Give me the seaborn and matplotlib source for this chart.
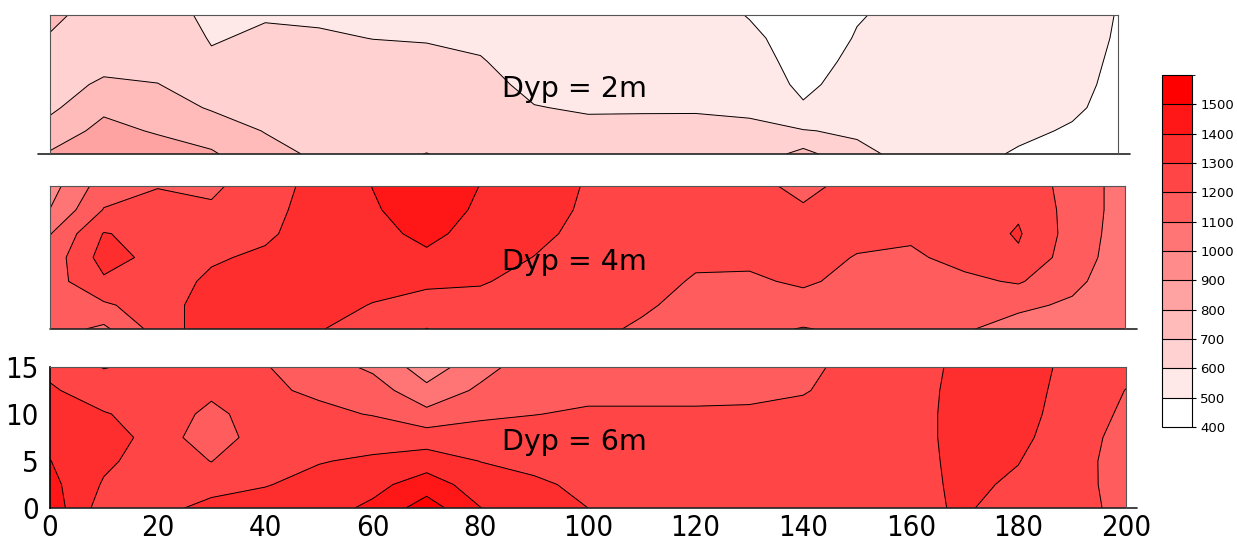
import numpy as np
import seaborn as sns
import matplotlib
matplotlib.use("Agg")
import matplotlib.pyplot as plt
from matplotlib.colors import ListedColormap, BoundaryNorm
from matplotlib.cm import ScalarMappable

# grid: x along the line, y = depth axis of each panel
x_pos = [0, 10, 20, 30, 40, 50, 60, 70, 80, 90, 100, 110, 120, 130, 140, 150, 160, 170, 180, 190, 200]
y_pos = [0, 2.5, 5, 7.5, 10, 12.5, 15]

# Dyp = 2m, one row per y value
dyp2 = [
    [810, 880, 850, 810, 740, 680, 670, 702, 665, 650, 640, 640, 640, 635, 730, 625, 570, 530, 490, 475, 440],
    [740, 830, 790, 760, 695, 665, 660, 660, 655, 635, 620, 620, 618, 612, 605, 585, 570, 540, 520, 490, 450],
    [680, 780, 750, 690, 670, 655, 650, 650, 640, 603, 592, 593, 594, 590, 510, 560, 555, 545, 535, 515, 460],
    [660, 715, 702, 660, 650, 640, 640, 635, 625, 580, 575, 570, 568, 560, 480, 540, 545, 545, 540, 525, 470],
    [650, 670, 670, 610, 630, 625, 620, 615, 605, 565, 562, 560, 558, 540, 465, 520, 535, 540, 540, 530, 478],
    [690, 640, 650, 595, 610, 608, 599, 596, 585, 560, 555, 555, 552, 520, 455, 505, 525, 535, 540, 535, 485],
    [730, 640, 630, 585, 595, 590, 580, 575, 570, 555, 550, 550, 545, 495, 450, 495, 520, 530, 540, 535, 490],
]

# Dyp = 4m
dyp4 = [
    [1140, 1080, 1240, 1360, 1370, 1305, 1260, 1198, 1240, 1230, 1235, 1180, 1130, 1125, 1095, 1120, 1115, 1110, 1060, 1040, 1010],
    [1150, 1185, 1250, 1350, 1360, 1340, 1295, 1260, 1268, 1250, 1230, 1220, 1155, 1150, 1160, 1150, 1140, 1140, 1120, 1085, 1020],
    [1155, 1285, 1260, 1315, 1340, 1350, 1340, 1320, 1308, 1270, 1240, 1240, 1190, 1185, 1215, 1170, 1160, 1180, 1210, 1125, 1035],
    [1140, 1340, 1270, 1290, 1315, 1350, 1360, 1385, 1340, 1298, 1255, 1255, 1218, 1220, 1235, 1195, 1185, 1230, 1285, 1150, 1045],
    [1095, 1305, 1270, 1250, 1285, 1345, 1375, 1420, 1370, 1325, 1270, 1265, 1240, 1240, 1240, 1225, 1215, 1245, 1310, 1160, 1050],
    [1002, 1205, 1240, 1215, 1270, 1340, 1390, 1450, 1385, 1345, 1283, 1270, 1250, 1245, 1215, 1240, 1240, 1250, 1285, 1165, 1055],
    [960, 1150, 1195, 1180, 1260, 1330, 1402, 1470, 1398, 1360, 1290, 1270, 1255, 1240, 1165, 1245, 1250, 1250, 1260, 1165, 1055],
]

# Dyp = 6m
dyp6 = [
    [1460, 1250, 1260, 1340, 1340, 1360, 1420, 1550, 1402, 1340, 1300, 1260, 1250, 1250, 1250, 1255, 1270, 1315, 1240, 1225, 1180],
    [1430, 1290, 1240, 1250, 1295, 1330, 1370, 1450, 1350, 1315, 1280, 1250, 1245, 1245, 1245, 1250, 1270, 1320, 1285, 1228, 1170],
    [1402, 1320, 1250, 1198, 1280, 1295, 1315, 1350, 1298, 1275, 1260, 1240, 1240, 1240, 1240, 1250, 1270, 1325, 1303, 1232, 1165],
    [1360, 1325, 1280, 1110, 1285, 1255, 1260, 1250, 1250, 1240, 1235, 1230, 1230, 1232, 1235, 1245, 1270, 1330, 1325, 1240, 1170],
    [1330, 1305, 1270, 1170, 1260, 1220, 1195, 1130, 1180, 1198, 1210, 1210, 1210, 1210, 1220, 1240, 1270, 1330, 1340, 1250, 1185],
    [1310, 1260, 1240, 1225, 1215, 1185, 1150, 1025, 1120, 1170, 1180, 1180, 1180, 1185, 1195, 1230, 1265, 1330, 1345, 1262, 1198],
    [1280, 1195, 1230, 1220, 1205, 1150, 1080, 950, 1060, 1160, 1165, 1170, 1170, 1175, 1185, 1220, 1260, 1325, 1345, 1275, 1225],
]

levels = list(range(400, 1700, 100))
cbar_ticks = levels[:-1]
x_ticks = list(range(0, 201, 20))
y_ticks = [0, 5, 10, 15]
labels = ["Dyp = 2m", "Dyp = 4m", "Dyp = 6m"]

sns.set_style("white")
plt.rcParams.update({"text.color": "black", "xtick.color": "black", "ytick.color": "black"})
palette = sns.blend_palette(["#ffffff", "#ff0000"], len(levels) - 1)
cmap = ListedColormap(palette)
norm = BoundaryNorm(levels, cmap.N)

W, H = 1237, 544
fig = plt.figure(figsize=(W / 100, H / 100), dpi=100)


def add_ax(l, t, r, b):
    return fig.add_axes([l / W, 1 - b / H, (r - l) / W, (b - t) / H])


# pixel boxes of the three panels and how far each one reaches in x
boxes = [(50, 15, 1118, 154), (50, 186, 1125, 329), (50, 367, 1126, 508)]
x_ends = [198.5, 199.8, 200]
line_spans = [(-0.0112, 1.0112), (0, 1.0112), (0, 1.0102)]

axes = []
for data, box, xend, span, lab in zip([dyp2, dyp4, dyp6], boxes, x_ends, line_spans, labels):
    ax = add_ax(*box)
    z = np.array(data)
    ax.contourf(x_pos, y_pos, z, levels=levels, colors=palette)
    ax.contour(x_pos, y_pos, z, levels=levels, colors="black", linewidths=0.7)
    ax.set_xlim(0, xend)
    ax.set_ylim(0, 15)
    for s in ["left", "top", "right"]:
        ax.spines[s].set_color("#555555")
        ax.spines[s].set_linewidth(0.8)
    ax.spines["bottom"].set_visible(False)
    ax.axhline(0, xmin=span[0], xmax=span[1], color="#222222", lw=1.2, clip_on=False)
    ax.text(84, 7, lab, fontsize=20.5, va="center", ha="left", family="DejaVu Sans", color="black")
    ax.set_xticks([])
    ax.set_yticks([])
    axes.append(ax)

ax3 = axes[2]
ax3.spines["left"].set_color("black")
ax3.spines["left"].set_linewidth(1.2)
ax3.set_xticks(x_ticks)
ax3.set_yticks(y_ticks)
ax3.tick_params(axis="x", direction="in", length=16, width=1, pad=4, labelsize=21)
ax3.tick_params(axis="y", direction="in", length=8.5, width=1, pad=8, labelsize=21)
for t in ax3.get_xticklabels() + ax3.get_yticklabels():
    t.set_family("DejaVu Sans")
    t.set_stretch("condensed")

cax = add_ax(1162, 75, 1192, 427)
cb = fig.colorbar(ScalarMappable(norm=norm, cmap=cmap), cax=cax, drawedges=True, ticks=cbar_ticks)
cb.outline.set_linewidth(0.8)
cb.outline.set_edgecolor("black")
cb.dividers.set_color("black")
cb.dividers.set_linewidth(0.8)
cax.tick_params(length=3, width=0.8, labelsize=9.5, pad=3)
for t in cax.get_yticklabels():
    t.set_family("DejaVu Sans")

fig.savefig("out.png", dpi=100)
